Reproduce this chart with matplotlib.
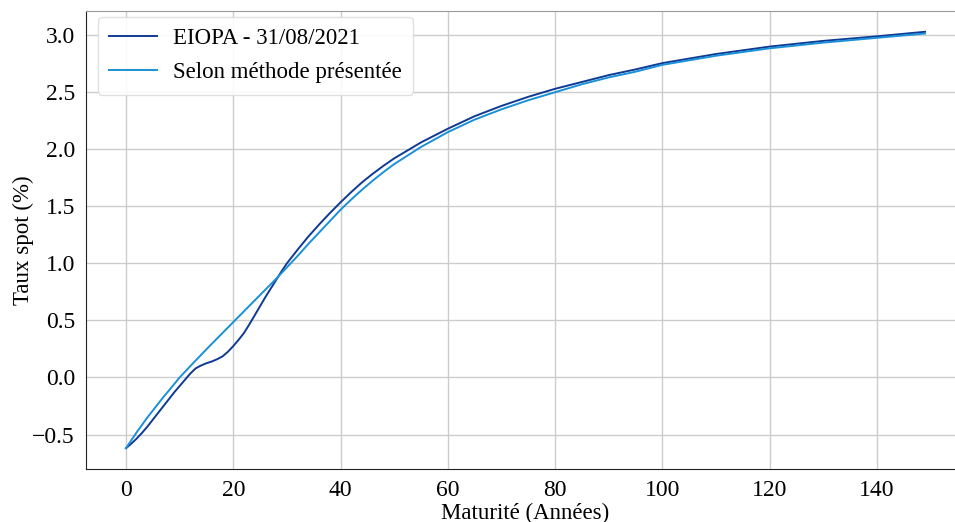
import matplotlib
matplotlib.use("Agg")
import matplotlib.pyplot as plt

plt.rcParams["font.family"] = ["Liberation Serif", "DejaVu Serif"]

# Maturities (years) and spot rates (%)
maturites_eiopa = [0, 1, 2, 3, 4, 5, 6, 7, 8, 9, 10, 11, 12, 13, 14, 15, 16, 17, 18, 19,
                   20, 21, 22, 23, 24, 25, 26, 27, 28, 29, 30, 31, 32, 34, 36, 38, 40,
                   42, 44, 46, 48, 50, 55, 60, 65, 70, 75, 80, 85, 90, 95, 100,
                   110, 120, 130, 140, 149]
taux_eiopa = [-0.62, -0.58, -0.535, -0.485, -0.43, -0.37, -0.31, -0.25, -0.19, -0.13,
              -0.075, -0.02, 0.035, 0.08, 0.105, 0.125, 0.14, 0.16, 0.185, 0.225,
              0.275, 0.33, 0.39, 0.465, 0.545, 0.625, 0.705, 0.78, 0.855, 0.93,
              1.0, 1.06, 1.12, 1.235, 1.34, 1.44, 1.535,
              1.625, 1.71, 1.785, 1.855, 1.92, 2.06, 2.18, 2.29, 2.38, 2.46, 2.53, 2.59, 2.65, 2.70, 2.755,
              2.835, 2.90, 2.95, 2.99, 3.03]

maturites_methode = [0, 1, 2, 3, 4, 5, 6, 7, 8, 9, 10, 12, 14, 16, 18, 20, 22, 24, 26, 28,
                     30, 32, 34, 36, 38, 40, 42, 44, 46, 48, 50, 55, 60, 65, 70, 75, 80,
                     85, 90, 95, 100, 110, 120, 130, 140, 149]
taux_methode = [-0.62, -0.55, -0.48, -0.415, -0.35, -0.29, -0.23, -0.17, -0.115, -0.057,
                0.0, 0.10, 0.198, 0.295, 0.39, 0.485, 0.58, 0.675, 0.77, 0.865,
                0.965, 1.065, 1.17, 1.27, 1.37, 1.47, 1.56, 1.645, 1.725, 1.80, 1.87,
                2.02, 2.15, 2.26, 2.35, 2.43, 2.50, 2.57, 2.63, 2.68, 2.74,
                2.82, 2.885, 2.935, 2.977, 3.015]

x_ticks = [0, 20, 40, 60, 80, 100, 120, 140]
y_ticks = [-0.5, 0.0, 0.5, 1.0, 1.5, 2.0, 2.5, 3.0]

fig = plt.figure(figsize=(9.55, 5.22), dpi=100)
ax = fig.add_axes([0.0901, 0.1015, 0.9204, 0.8775])

ax.plot(maturites_eiopa, taux_eiopa, color="#0f3a94", lw=1.4, label="EIOPA - 31/08/2021")
ax.plot(maturites_methode, taux_methode, color="#1a90d8", lw=1.4, label="Selon méthode présentée")

ax.set_xticks(x_ticks)
ax.set_yticks(y_ticks)
ax.set_yticklabels([f"{v:.1f}".replace("-", "\u2212") for v in y_ticks])
ax.tick_params(length=0, labelsize=17, pad=8)
ax.grid(True, color="#cccccc", lw=1)
ax.set_axisbelow(True)

ax.spines["right"].set_visible(False)
ax.spines["top"].set_color("#999999")
for s in ("left", "bottom"):
    ax.spines[s].set_color("#222222")

ax.set_xlabel("Maturité (Années)", fontsize=16.5, labelpad=1)
ax.set_ylabel("Taux spot (%)", fontsize=16.5, labelpad=-1.5)

ax.legend(loc="upper left", fontsize=16.5, frameon=True, framealpha=0.9,
          edgecolor="#dddddd", handlelength=2.1, handletextpad=0.7,
          borderpad=0.5, labelspacing=0.55, bbox_to_anchor=(0.0, 1.012))

fig.savefig("out.png", dpi=100)
